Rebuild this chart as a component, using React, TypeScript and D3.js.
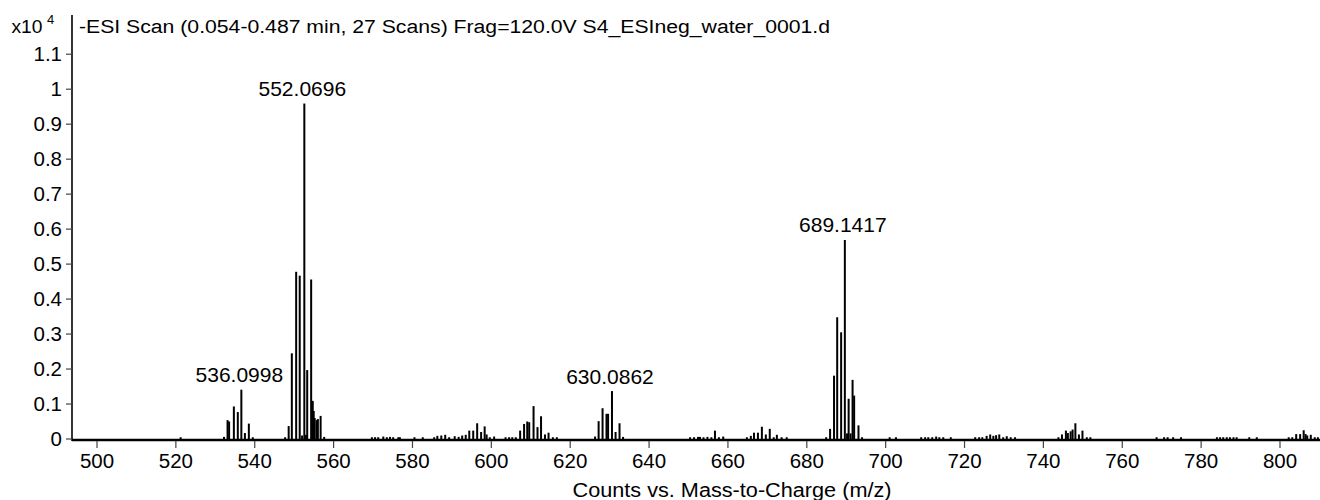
import React from 'react';
import * as d3 from 'd3';

// Centroided mass spectrum: m/z of each stick and its abundance in counts x10^4
const mzValues = [
  520.7,
  531.7, 532.6, 533.0, 534.2, 535.2, 536.0998, 537.0, 538.0, 539.0,
  547.2, 548.1, 548.9, 550.0, 550.9, 551.5, 552.0696, 552.5, 552.8, 553.8, 554.2, 554.45, 554.7, 555.2, 555.5, 556.2, 557.1,
  569.2, 570.0, 570.8, 572.1, 573.0, 573.8, 574.6, 575.9, 576.3, 580.0,
  582.1, 585.0, 585.8, 586.8, 587.8, 588.8, 590.2, 591.2, 592.1, 593.0, 593.9, 594.9, 595.9, 596.9, 597.8, 598.3, 599.1, 600.2,
  603.1, 604.0, 604.8, 605.7, 606.8, 607.8, 608.6, 609.1, 610.2, 611.2, 612.1, 613.1, 614.0, 615.1, 616.1,
  625.8, 626.7, 627.7, 628.7, 629.1, 630.0862, 631.0, 632.0, 632.9,
  649.9, 650.9, 651.9, 652.4, 653.3, 654.3, 655.3, 656.2, 657.2, 658.3,
  664.3, 665.3, 666.1, 667.1, 668.1, 669.1, 670.1, 671.1, 671.9, 673.1, 674.4,
  684.4, 685.4, 686.4, 687.2, 688.2, 689.1417, 689.7, 690.1, 690.6, 691.1, 691.5, 692.6, 693.5,
  700.5, 702.1, 708.5, 709.5, 710.3, 711.3, 712.3, 713.1, 714.1, 716.0,
  722.2, 723.2, 724.0, 725.1, 726.0, 726.8, 727.5, 728.3, 729.3, 730.2, 731.2, 732.3,
  743.3, 744.2, 745.2, 745.7, 746.4, 746.9, 747.6, 748.5, 749.4, 750.5, 751.4,
  768.2, 770.1, 771.0, 772.4, 774.4, 783.5, 784.3, 785.1, 786.0, 786.8, 787.7, 788.5, 791.7, 793.6,
  801.7, 802.6, 803.6, 804.6, 805.5, 806.0, 806.4, 807.3, 808.3, 809.1,
];

const intensities = [
  0.005,
  0.006, 0.054, 0.050, 0.093, 0.077, 0.141, 0.017, 0.044, 0.005,
  0.005, 0.037, 0.245, 0.478, 0.467, 0.010, 0.959, 0.012, 0.197, 0.456, 0.109, 0.080, 0.060, 0.054, 0.057, 0.066, 0.006,
  0.005, 0.005, 0.005, 0.007, 0.005, 0.006, 0.005, 0.005, 0.005, 0.005,
  0.005, 0.005, 0.009, 0.010, 0.012, 0.005, 0.008, 0.006, 0.010, 0.012, 0.024, 0.024, 0.045, 0.020, 0.036, 0.013, 0.005, 0.007,
  0.005, 0.005, 0.005, 0.005, 0.024, 0.043, 0.050, 0.048, 0.094, 0.034, 0.065, 0.013, 0.018, 0.005, 0.005,
  0.007, 0.051, 0.088, 0.072, 0.072, 0.137, 0.020, 0.045, 0.006,
  0.005, 0.005, 0.006, 0.006, 0.005, 0.006, 0.005, 0.024, 0.005, 0.007,
  0.005, 0.009, 0.018, 0.018, 0.035, 0.013, 0.029, 0.005, 0.012, 0.005, 0.005,
  0.005, 0.029, 0.181, 0.348, 0.305, 0.569, 0.016, 0.115, 0.016, 0.169, 0.124, 0.039, 0.005,
  0.005, 0.005, 0.005, 0.005, 0.005, 0.005, 0.007, 0.005, 0.005, 0.005,
  0.005, 0.005, 0.005, 0.009, 0.013, 0.009, 0.011, 0.013, 0.005, 0.008, 0.005, 0.005,
  0.005, 0.013, 0.024, 0.017, 0.022, 0.027, 0.045, 0.013, 0.024, 0.005, 0.005,
  0.005, 0.005, 0.005, 0.005, 0.005, 0.005, 0.005, 0.005, 0.005, 0.005, 0.005, 0.005, 0.005, 0.005,
  0.005, 0.005, 0.014, 0.014, 0.025, 0.014, 0.010, 0.012, 0.005, 0.005,
];

// Annotated peaks (m/z as printed above each stick)
const annotatedMz = [536.0998, 552.0696, 630.0862, 689.1417];
const annotatedText = ['536.0998', '552.0696', '630.0862', '689.1417'];

const xTickValues = [500, 520, 540, 560, 580, 600, 620, 640, 660, 680, 700, 720, 740, 760, 780, 800];
const yTickValues = [0, 0.1, 0.2, 0.3, 0.4, 0.5, 0.6, 0.7, 0.8, 0.9, 1, 1.1];
const yTickLabels = ['0', '0.1', '0.2', '0.3', '0.4', '0.5', '0.6', '0.7', '0.8', '0.9', '1', '1.1'];

const titleText = '-ESI Scan (0.054-0.487 min, 27 Scans) Frag=120.0V S4_ESIneg_water_0001.d';
const xAxisTitle = 'Counts vs. Mass-to-Charge (m/z)';

const FONT = '"Liberation Sans", Arial, Helvetica, sans-serif';

export default function App() {
  const width = 1320;
  const height = 500;

  const x = d3.scaleLinear().domain([500, 800]).range([97, 1280]);
  const y = d3.scaleLinear().domain([0, 1]).range([439, 89.2]);

  const plotLeft = 72;
  const plotRight = 1320;
  const plotTop = 15;

  const sticks = mzValues.map((mz, i) => ({ mz, v: intensities[i] }));
  const labels = annotatedMz.map((mz, i) => {
    const idx = mzValues.indexOf(mz);
    return { mz, v: intensities[idx], text: annotatedText[i] };
  });

  return (
    <svg
      width={width}
      height={height}
      style={{ position: 'absolute', left: 0, top: 0, background: '#fff' }}
      fontFamily={FONT}
    >
      <defs>
        <clipPath id="plot-clip">
          <rect x={plotLeft} y={0} width={plotRight - plotLeft} height={height} />
        </clipPath>
      </defs>

      {/* title line */}
      <text x={11.5} y={33} fontSize={18} textLength={31} lengthAdjust="spacingAndGlyphs">x10</text>
      <text x={47} y={24} fontSize={13}>4</text>
      <text x={79} y={32.5} fontSize={18} textLength={751} lengthAdjust="spacingAndGlyphs">
        {titleText}
      </text>

      {/* spectrum sticks */}
      <g clipPath="url(#plot-clip)">
        {sticks.map((d, i) => (
          <rect
            key={i}
            x={x(d.mz) + 1}
            y={y(d.v)}
            width={2}
            height={y(0) - y(d.v)}
            fill="#000"
          />
        ))}
      </g>

      {/* peak annotations */}
      {labels.map((d, i) => (
        <text key={i} x={x(d.mz)} y={y(d.v) - 7.5} fontSize={21} textAnchor="middle">
          {d.text}
        </text>
      ))}

      {/* y axis */}
      <line x1={plotLeft} x2={plotLeft} y1={plotTop} y2={441} stroke="#000" strokeWidth={1.6} />
      {yTickValues.map((t, i) => (
        <g key={i}>
          <line x1={66} x2={plotLeft} y1={y(t)} y2={y(t)} stroke="#444" strokeWidth={1.2} />
          <text x={62} y={y(t) + 7} fontSize={20.5} textAnchor="end">
            {yTickLabels[i]}
          </text>
        </g>
      ))}

      {/* x axis */}
      <line x1={plotLeft} x2={plotRight} y1={440} y2={440} stroke="#000" strokeWidth={2.5} />
      {xTickValues.map((t) => (
        <g key={t}>
          <line x1={x(t)} x2={x(t)} y1={441} y2={448} stroke="#444" strokeWidth={1.2} />
          <text x={x(t)} y={468} fontSize={20.5} textAnchor="middle">
            {t}
          </text>
        </g>
      ))}
      <text x={732} y={497} fontSize={20} textAnchor="middle" textLength={319} lengthAdjust="spacingAndGlyphs">
        {xAxisTitle}
      </text>
    </svg>
  );
}
